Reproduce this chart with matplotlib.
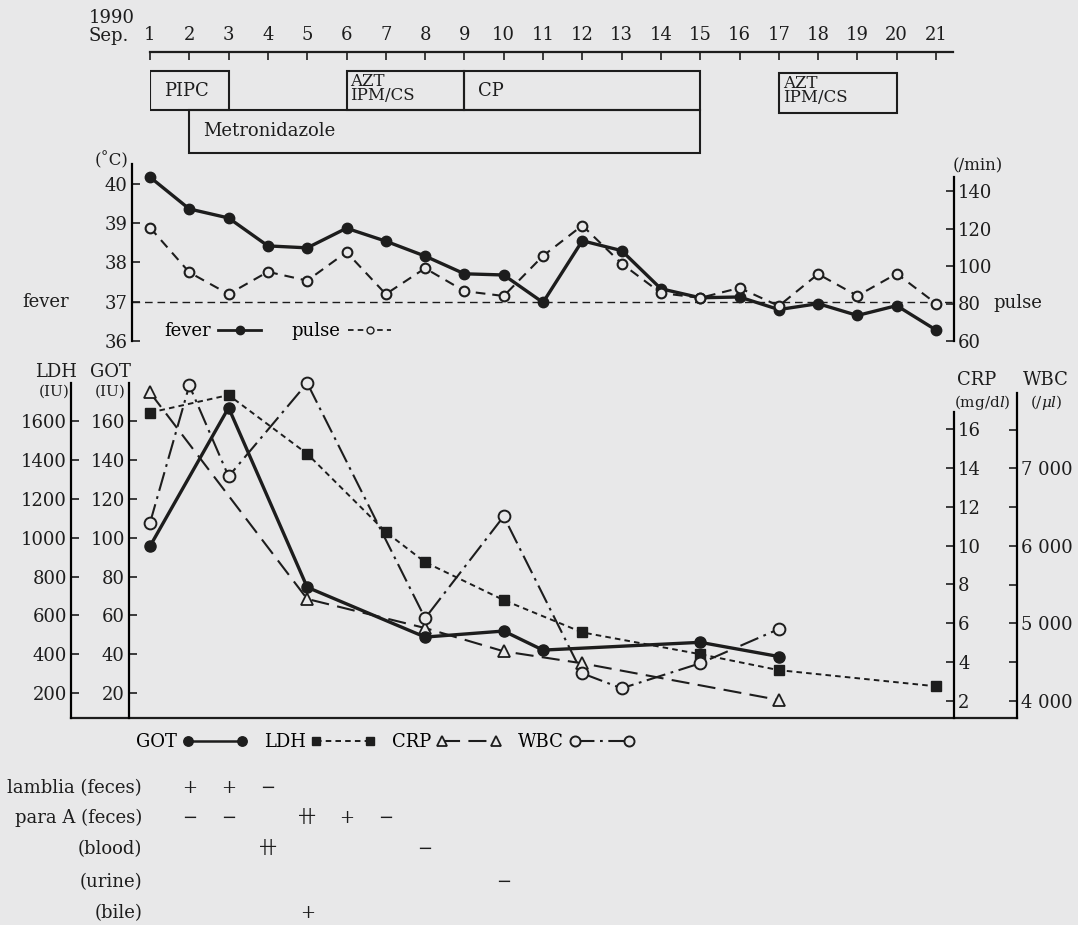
import matplotlib
matplotlib.use("Agg")
import matplotlib.pyplot as plt
from matplotlib.patches import Rectangle
from matplotlib.lines import Line2D
from matplotlib.transforms import blended_transform_factory

plt.rcParams["font.family"] = ["DejaVu Serif", "Noto Sans CJK JP"]
plt.rcParams["mathtext.fontset"] = "dejavuserif"
plt.rcParams["lines.scale_dashes"] = False

INK = "#1d1d1d"
BG = "#e8e8e9"
FS = 13

# ---- data (Sep. 1990) ----
days = list(range(1, 22))

drug_names = ["PIPC", "AZT\nIPM/CS", "CP", "Metronidazole", "AZT\nIPM/CS"]
drug_start = [1, 6, 9, 2, 17]
drug_end = [3, 9, 15, 15, 20]

fever = [40.17, 39.36, 39.13, 38.42, 38.37, 38.87, 38.54, 38.16, 37.71, 37.68, 36.98,
         38.55, 38.30, 37.33, 37.10, 37.12, 36.80, 36.95, 36.65, 36.90, 36.28]
pulse = [120.5, 96.6, 85.0, 96.9, 92.2, 107.4, 85.0, 98.8, 86.6, 84.0, 105.4,
         121.6, 101.3, 85.6, 83.0, 88.3, 78.7, 95.7, 84.1, 95.9, 80.0]

got_days = [1, 3, 5, 8, 10, 11, 15, 17]
got = [95.6, 166.8, 74.5, 48.9, 52.0, 42.2, 46.2, 38.9]

ldh_days = [1, 3, 5, 7, 8, 10, 12, 15, 17, 21]
ldh = [1643, 1733, 1431, 1029, 874, 679, 513, 401, 319, 236]

crp_days = [1, 5, 8, 10, 12, 17]
crp = [17.9, 7.25, 5.75, 4.55, 3.93, 2.04]

wbc_days = [1, 2, 3, 5, 8, 10, 12, 13, 15, 17]
wbc = [6295, 8070, 6895, 8100, 5065, 6380, 4353, 4160, 4483, 4925]

test_labels = ["lamblia (feces)", "para A (feces)", "(blood)", "(urine)", "(bile)"]
test_days = [[2, 3, 4], [2, 3, 5, 6, 7], [4, 8], [10], [5]]
test_marks = [["+", "+", "\u2212"], ["\u2212", "\u2212", "\u5344", "+", "\u2212"],
              ["\u5344", "\u2212"], ["\u2212"], ["+"]]

# ---- layout helpers (pixel based) ----
W, H = 1078, 925
DAY1_PX, DAY_W = 150, 39.3


def box(l, t, r, b):
    return [l / W, 1 - b / H, (r - l) / W, (b - t) / H]


def day_span(l, r):
    return (1 + (l - DAY1_PX) / DAY_W, 1 + (r - DAY1_PX) / DAY_W)


def fx(x):
    return x / W


def fy(y):
    return 1 - y / H


def ticks_in(ax, pad=3):
    ax.tick_params(axis="y", direction="in", length=6, width=1.2, pad=pad,
                   labelsize=FS, colors=INK)


fig = plt.figure(figsize=(W / 100, H / 100), dpi=100, facecolor=BG)

# ---- date axis + drug boxes ----
ax_top = fig.add_axes(box(150, 52, 953, 160))
ax_top.set_xlim(*day_span(150, 953))
ax_top.set_ylim(160, 52)
ax_top.patch.set_visible(False)
for s in ["left", "right", "bottom"]:
    ax_top.spines[s].set_visible(False)
ax_top.spines["top"].set_linewidth(1.6)
ax_top.spines["top"].set_color(INK)
ax_top.set_yticks([])
ax_top.xaxis.tick_top()
ax_top.set_xticks(days)
ax_top.tick_params(axis="x", direction="in", length=6, width=1.2, pad=6,
                   labelsize=FS, colors=INK)
fig.text(fx(89), fy(18), "1990", fontsize=FS, color=INK, va="center")
fig.text(fx(89), fy(36), "Sep.", fontsize=FS, color=INK, va="center")

rows = [(71, 110), (71, 110), (71, 110), (110, 153), (73, 113)]
for name, a, b, (t, btm) in zip(drug_names, drug_start, drug_end, rows):
    ax_top.add_patch(Rectangle((a, t), b - a, btm - t, fill=False, ec=INK, lw=1.5))
    if "\n" in name:
        ax_top.text(a + 0.1, t + 2, name, fontsize=12, color=INK, va="top",
                    linespacing=0.8)
    else:
        ax_top.text(a + 0.35, (t + btm) / 2, name, fontsize=FS, color=INK, va="center")

# ---- fever / pulse ----
ax_f = fig.add_axes(box(132, 164, 954, 341))
ax_f.set_xlim(*day_span(132, 954))
ax_f.set_ylim(36, 36 + (341 - 164) / 39.3)
ax_f.patch.set_visible(False)
for s in ["top", "right", "bottom"]:
    ax_f.spines[s].set_visible(False)
ax_f.spines["left"].set_linewidth(1.6)
ax_f.set_xticks([])
ax_f.set_yticks([36, 37, 38, 39, 40])
ticks_in(ax_f)
ax_f.axhline(37, ls=(0, (5.5, 3.5)), lw=1.0, color=INK)
ax_f.plot(days, fever, "-o", color=INK, lw=2.4, ms=7.5, clip_on=False, zorder=4)

ax_p = ax_f.twinx()
ax_p.set_ylim(60, 60 + (341 - 164) / 1.875)
for s in ["top", "left", "bottom"]:
    ax_p.spines[s].set_visible(False)
ax_p.spines["right"].set_linewidth(1.6)
ax_p.spines["right"].set_bounds(60, 60 + (341 - 177) / 1.875)
ax_p.set_yticks([60, 80, 100, 120, 140])
ticks_in(ax_p)
ax_p.plot(days, pulse, ls=(0, (7, 5)), lw=1.5, color=INK, marker="o", ms=7,
          mfc=BG, mec=INK, mew=1.5, clip_on=False, zorder=3)

fig.text(fx(112), fy(161), "(\u02daC)", fontsize=12, color=INK, ha="center", va="center")
fig.text(fx(978), fy(166), "(/min)", fontsize=12, color=INK, ha="center", va="center")
ax_f.text(fx(69), 37, "fever", fontsize=FS, color=INK, ha="right", va="center",
          transform=blended_transform_factory(fig.transFigure, ax_f.transData))
ax_p.text(fx(993), 80, "pulse", fontsize=FS, color=INK, ha="left", va="center",
          transform=blended_transform_factory(fig.transFigure, ax_p.transData))

fever_h = Line2D([], [], color=INK, lw=2.0, marker="o", ms=6)
pulse_h = Line2D([], [], color=INK, lw=1.3, ls=(0, (4, 3)), marker="o", ms=5,
                 mfc=BG, mec=INK)
ax_p.legend([fever_h, pulse_h], ["fever", "pulse"], loc="center left",
            bbox_to_anchor=(fx(155), fy(331)), bbox_transform=fig.transFigure,
            ncol=2, frameon=False, markerfirst=False, numpoints=1, handlelength=2.4,
            handletextpad=0.4, columnspacing=1.7, borderpad=0, fontsize=FS)

# ---- laboratory values ----
L, R, T, B = 129, 954, 383, 718
ax_g = fig.add_axes(box(L, T, R, B))
ax_g.set_xlim(*day_span(L, R))
ax_g.set_ylim(7.3, 179.5)
ax_g.patch.set_visible(False)
for s in ["top", "right", "bottom"]:
    ax_g.spines[s].set_visible(False)
ax_g.spines["left"].set_linewidth(1.6)
ax_g.set_xticks([])
ax_g.set_yticks(range(20, 161, 20))
ticks_in(ax_g)
lx, wx = (71 - L) / (R - L), (1017 - L) / (R - L)
ax_g.plot([lx, wx], [0, 0], color=INK, lw=1.6, transform=ax_g.transAxes, clip_on=False)

ax_l = ax_g.twinx()
ax_l.set_ylim(73, 1795)
for s in ["top", "right", "bottom"]:
    ax_l.spines[s].set_visible(False)
ax_l.spines["left"].set_visible(True)
ax_l.spines["left"].set_position(("axes", lx))
ax_l.spines["left"].set_linewidth(1.6)
ax_l.yaxis.set_ticks_position("left")
ax_l.set_yticks(range(200, 1601, 200))
ticks_in(ax_l)

ax_c = ax_g.twinx()
ax_c.set_ylim(1.11, 18.39)
for s in ["top", "left", "bottom"]:
    ax_c.spines[s].set_visible(False)
ax_c.spines["right"].set_linewidth(1.6)
ax_c.spines["right"].set_bounds(1.11, 16.9)
ax_c.set_yticks(range(2, 17, 2))
ticks_in(ax_c)

ax_w = ax_g.twinx()
ax_w.set_ylim(3777, 8101)
for s in ["top", "left", "bottom"]:
    ax_w.spines[s].set_visible(False)
ax_w.spines["right"].set_position(("axes", wx))
ax_w.spines["right"].set_linewidth(1.6)
ax_w.spines["right"].set_bounds(3777, 7972)
wbc_ticks = list(range(4000, 7501, 500))
ax_w.set_yticks(wbc_ticks)
ax_w.set_yticklabels([f"{v // 1000} 000" if v % 1000 == 0 else "" for v in wbc_ticks])
ticks_in(ax_w)

got_style = dict(color=INK, lw=2.4, ls="-", marker="o", ms=8)
ldh_style = dict(color=INK, lw=1.4, ls=(0, (4, 3)), marker="s", ms=7.5)
crp_style = dict(color=INK, lw=1.5, ls=(0, (13, 6)), marker="^", ms=8, mfc=BG,
                 mec=INK, mew=1.3)
wbc_style = dict(color=INK, lw=1.5, ls=(0, (14, 4, 2, 4)), marker="o", ms=8.5,
                 mfc=BG, mec=INK, mew=1.4)

ax_l.plot(ldh_days, ldh, clip_on=False, **ldh_style)
ax_c.plot(crp_days, crp, clip_on=False, **crp_style)
ax_w.plot(wbc_days, wbc, clip_on=False, **wbc_style)
# GOT drawn on an overlay with the GOT scale so it sits above the other series
ax_got = ax_g.twinx()
ax_got.set_ylim(ax_g.get_ylim())
ax_got.axis("off")
ax_got.plot(got_days, got, clip_on=False, **got_style)

for txt, x, y, fs in [("LDH", 56, 372, FS), ("(IU)", 54, 392, 11),
                      ("GOT", 110, 372, FS), ("(IU)", 110, 392, 11),
                      ("CRP", 977, 380, FS), ("(mg/d$l$)", 982, 402, 11),
                      ("WBC", 1046, 380, FS), ("(/$\\mu l$)", 1046, 402, 11)]:
    fig.text(fx(x), fy(y), txt, fontsize=fs, color=INK, ha="center", va="center")

handles = [Line2D([], [], **got_style), Line2D([], [], **ldh_style),
           Line2D([], [], **crp_style), Line2D([], [], **wbc_style)]
for h in handles:
    h.set_markersize(h.get_markersize() * 0.85)
    h.set_linewidth(min(h.get_linewidth(), 1.8))
fig.legend(handles, ["GOT", "LDH", "CRP", "WBC"], loc="center left",
           bbox_to_anchor=(fx(127), fy(742)), ncol=4, frameon=False, markerfirst=False,
           numpoints=2, handlelength=3.6, handletextpad=0.3, columnspacing=0.9,
           borderpad=0, fontsize=FS)

# ---- stool / culture results ----
row_y = [788, 818, 849, 882, 913]
tr = blended_transform_factory(ax_g.transData, fig.transFigure)
for label, y, ds, ms in zip(test_labels, row_y, test_days, test_marks):
    fig.text(fx(142), fy(y), label, fontsize=FS, color=INK, ha="right", va="center")
    for d, m in zip(ds, ms):
        ax_g.text(d, fy(y), m, fontsize=FS, color=INK, ha="center", va="center",
                  transform=tr)

fig.savefig("out.png", dpi=100, facecolor=BG)
